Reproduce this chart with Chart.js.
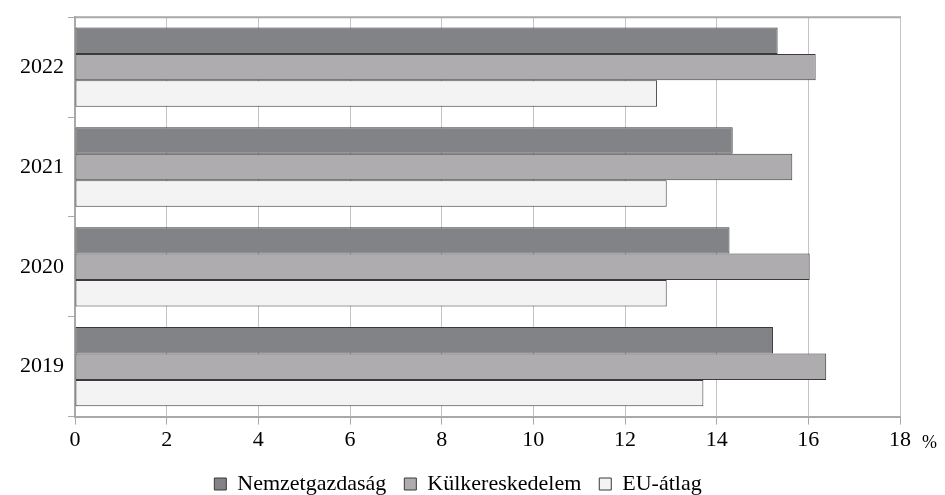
<!DOCTYPE html>
<html>
<head>
<meta charset="utf-8">
<script src="https://cdn.jsdelivr.net/npm/chart.js@4/dist/chart.umd.min.js"></script>
<style>
  html, body { margin: 0; padding: 0; background: #fff; overflow: hidden; }
  #wrap { width: 945px; height: 495px; overflow: hidden; }
</style>
</head>
<body>
<div id="wrap"><canvas id="c" width="945" height="507"></canvas></div>
<script>
// Years, top to bottom
const years = ['2022', '2021', '2020', '2019'];
// Shares in percent per year
const nemzetgazdasag = [15.33, 14.35, 14.28, 15.23];
const kulkereskedelem = [16.16, 15.65, 16.03, 16.39];
const euAtlag = [12.70, 12.91, 12.91, 13.71];
// Value axis ticks
const xTicks = [0, 2, 4, 6, 8, 10, 12, 14, 16, 18];

const serif = '"Liberation Serif", "Times New Roman", serif';

// Frame line along the top of the plot and the unit sign after the last tick
const framePlugin = {
  id: 'frame',
  afterDraw(chart) {
    const { ctx, chartArea, scales } = chart;
    ctx.save();
    ctx.strokeStyle = '#a9a9a9';
    ctx.lineWidth = 2;
    ctx.beginPath();
    ctx.moveTo(chartArea.left, chartArea.top);
    ctx.lineTo(chartArea.right + 1, chartArea.top);
    ctx.stroke();
    const xs = scales.x;
    const px = xs.getPixelForValue(18);
    ctx.fillStyle = '#000';
    ctx.font = '18px ' + serif;
    ctx.textBaseline = 'middle';
    ctx.fillText('%', px + 22, chartArea.bottom + 27);
    ctx.restore();
  }
};

new Chart(document.getElementById('c'), {
  type: 'bar',
  data: {
    labels: years,
    datasets: [
      { label: 'Nemzetgazdaság', data: nemzetgazdasag, backgroundColor: '#828387' },
      { label: 'Külkereskedelem', data: kulkereskedelem, backgroundColor: '#aeacae' },
      { label: 'EU-átlag', data: euAtlag, backgroundColor: '#f2f3f2' }
    ].map(d => Object.assign(d, { borderColor: '#3a3a3a', borderWidth: 1, borderSkipped: false }))
  },
  options: {
    indexAxis: 'y',
    responsive: false,
    animation: false,
    devicePixelRatio: 1,
    datasets: { bar: { categoryPercentage: 0.795, barPercentage: 1.0 } },
    layout: { padding: { left: 16, right: 45, top: 10, bottom: 2 } },
    scales: {
      x: {
        min: 0, max: 18,
        afterBuildTicks(scale) { scale.ticks = xTicks.map(v => ({ value: v })); },
        grid: { color: '#c4c4c4', lineWidth: 1, tickLength: 8, tickColor: '#a9a9a9' },
        border: { color: '#a9a9a9', width: 2 },
        ticks: { color: '#000', font: { family: serif, size: 22 }, padding: 2 }
      },
      y: {
        grid: { drawOnChartArea: false, offset: true, tickLength: 7, color: '#a9a9a9' },
        border: { color: '#a9a9a9', width: 2 },
        ticks: { color: '#000', font: { family: serif, size: 22 }, padding: 4 }
      }
    },
    plugins: {
      legend: {
        position: 'bottom',
        labels: {
          color: '#000',
          font: { family: serif, size: 22 },
          boxWidth: 12, boxHeight: 12, padding: 18
        }
      },
      tooltip: { enabled: false }
    }
  },
  plugins: [framePlugin]
});
</script>
</body>
</html>
